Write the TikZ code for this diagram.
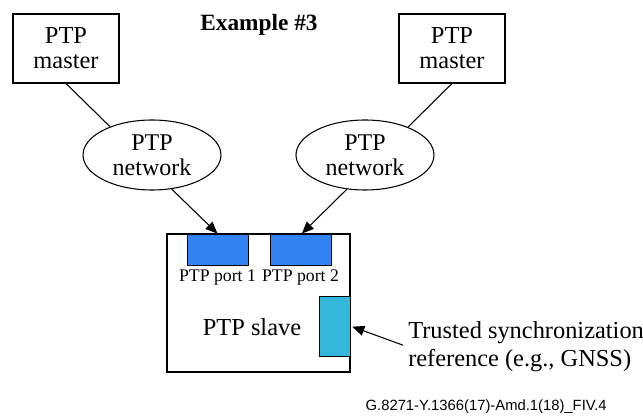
\documentclass[tikz,border=0pt]{standalone}
\usepackage{fontspec}
\setmainfont{Liberation Serif}
\setsansfont{Liberation Sans}
\usetikzlibrary{arrows.meta,positioning,shapes.geometric}

\definecolor{portblue}{HTML}{3384F2}
\definecolor{refcyan}{HTML}{33B7DB}

\tikzset{
  box/.style={draw,line width=0.8pt,align=center,inner sep=0pt,
              font=\fontsize{18.3}{18.75}\selectfont},
  cloud/.style={ellipse,draw,line width=0.8pt,align=center,inner sep=0pt,
                minimum width=103.5pt,minimum height=52.5pt,
                font=\fontsize{18}{18.75}\selectfont},
  port/.style={draw,line width=0.6pt,fill=portblue,inner sep=0pt,
               minimum width=45.75pt,minimum height=23.25pt},
  arr/.style={line width=0.8pt,-{Triangle[length=9pt,width=7.5pt]}}
}

\begin{document}
\begin{tikzpicture}[x=0.75pt,y=-0.75pt]
  \useasboundingbox (0,0) rectangle (643,416);

  \node [font=\bfseries\fontsize{17.5}{21}\selectfont] (title) at (259,25) {Example \#3};

  \node [box,minimum width=79.5pt,minimum height=51.75pt] (master1) at (66,48.5)  {PTP\\master};
  \node [box,minimum width=79.5pt,minimum height=51.75pt] (master2) at (452,48.5) {PTP\\master};

  \node [cloud] (net1) at (152,155) {PTP\\network};
  \node [cloud] (net2) at (365,155) {PTP\\network};

  \node [box,minimum width=137.25pt,minimum height=103.5pt] (slave) at (258.5,303) {};
  \node [font=\fontsize{18.3}{21}\selectfont] (slavetext) at (252,327) {PTP slave};

  \node [port] (port1) at (217.5,249.5) {};
  \node [port] (port2) at (300.5,249.5) {};
  \node [font=\fontsize{13.3}{16}\selectfont,below=0pt of port1] (port1text) {PTP port 1};
  \node [font=\fontsize{13.3}{16}\selectfont,below=0pt of port2] (port2text) {PTP port 2};

  \node [port,fill=refcyan,minimum width=23.25pt,minimum height=45pt] (ref) at (334.5,326) {};
  \node [anchor=west,align=left,inner sep=0pt,
         font=\fontsize{18.3}{21}\selectfont] (sync) at (408,347)
        {Trusted synchronization\\reference (e.g., GNSS)};

  \node [anchor=east,font=\sffamily\fontsize{11.1}{13}\selectfont,inner sep=0pt] (figid) at (607,407)
        {G.8271-Y.1366(17)-Amd.1(18)\_FIV.4};

  \draw [line width=0.8pt] (master1.south) -- (net1.146);
  \draw [line width=0.8pt] (master2.south) -- (net2.33);
  \draw [arr] (net1.-60)  -- (port1.north);
  \draw [arr] (net2.-118) -- ([xshift=1pt]port2.north);
  \draw [arr,shorten <=4pt,shorten >=1.5pt] (sync.west) -- (ref.east);

\end{tikzpicture}
\end{document}
